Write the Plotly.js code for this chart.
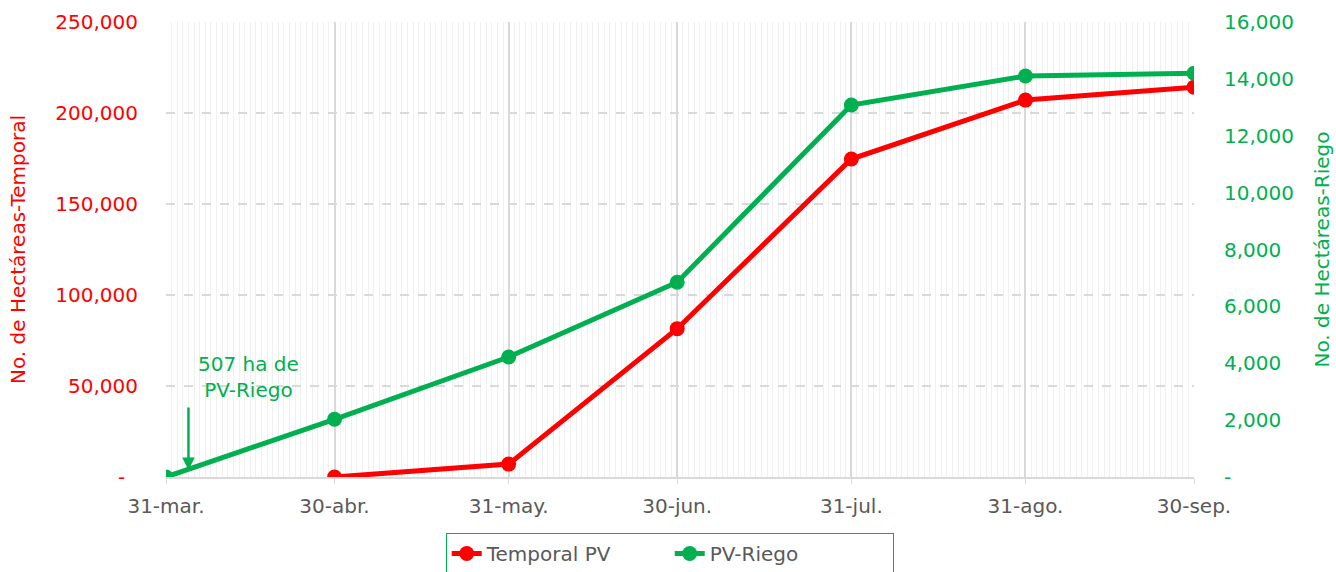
<!DOCTYPE html>
<html>
<head>
<meta charset="utf-8">
<script src="https://cdn.plot.ly/plotly-3.0.1.min.js"></script>
<style>html,body{margin:0;padding:0;background:#fff;}#chart{width:1336px;height:572px;}</style>
</head>
<body>
<div id="chart"></div>
<script>
const tickDates = ['2024-03-31','2024-04-30','2024-05-31','2024-06-30','2024-07-31','2024-08-31','2024-09-30'];
const tickLabels = ['31-mar.','30-abr.','31-may.','30-jun.','31-jul.','31-ago.','30-sep.'];

const temporalDates = ['2024-04-30','2024-05-31','2024-06-30','2024-07-31','2024-08-31','2024-09-30'];
const temporalValues = [0, 7100, 81500, 174700, 207100, 214200];

const riegoDates = ['2024-03-31','2024-04-30','2024-05-31','2024-06-30','2024-07-31','2024-08-31','2024-09-30'];
const riegoValues = [0, 2030, 4220, 6850, 13080, 14100, 14200];

const leftTicks = [0, 50000, 100000, 150000, 200000, 250000];
const leftTickText = ['-\u00a0\u00a0', '50,000', '100,000', '150,000', '200,000', '250,000'];
const rightTicks = [0, 2000, 4000, 6000, 8000, 10000, 12000, 14000, 16000];
const rightTickText = ['-', '2,000', '4,000', '6,000', '8,000', '10,000', '12,000', '14,000', '16,000'];

const annoDate = '2024-04-04';
const annoValue = 250;

const RED = '#FF0000', GREEN = '#00B050', GRAY = '#595959';
const FONT = 'DejaVu Sans';
const FS = 20;

const traces = [
  {x: temporalDates, y: temporalValues, name: 'Temporal PV', type: 'scatter', mode: 'lines+markers',
   line: {color: RED, width: 5}, marker: {color: RED, size: 15}, yaxis: 'y'},
  {x: riegoDates, y: riegoValues, name: 'PV-Riego', type: 'scatter', mode: 'lines+markers',
   line: {color: GREEN, width: 5}, marker: {color: GREEN, size: 15}, yaxis: 'y2'}
];

const layout = {
  width: 1336, height: 572,
  margin: {l: 166, r: 142, t: 22, b: 95},
  paper_bgcolor: '#fff', plot_bgcolor: '#fff',
  font: {family: FONT, size: FS, color: GRAY},
  showlegend: true,
  legend: {orientation: 'h', x: 0.49, xanchor: 'center', xref: 'paper',
           y: 39/572, yanchor: 'top', yref: 'container',
           entrywidth: 178, entrywidthmode: 'pixels',
           bordercolor: GREEN, borderwidth: 1, font: {size: FS, color: GRAY}},
  xaxis: {
    type: 'date', range: ['2024-03-31', '2024-09-30'],
    tickvals: tickDates, ticktext: tickLabels,
    showgrid: true, gridcolor: '#d9d9d9', gridwidth: 1.5,
    minor: {dtick: 86400000, tick0: '2024-03-31', showgrid: true, gridcolor: '#f0f0f0', gridwidth: 1},
    showline: true, linecolor: '#d9d9d9', linewidth: 1.5,
    ticks: 'outside', ticklen: 5, tickcolor: '#d9d9d9',
    tickfont: {size: FS, color: GRAY}, ticklabelstandoff: 5,
    zeroline: false
  },
  yaxis: {
    range: [0, 250000], tickvals: leftTicks, ticktext: leftTickText,
    tickfont: {size: FS, color: RED}, ticklabelstandoff: 27,
    showgrid: true, gridcolor: '#d9d9d9', griddash: 'dash', gridwidth: 1.5,
    zeroline: false, showline: false,
    title: {text: 'No. de Hectáreas-Temporal', font: {size: FS, color: RED}, standoff: 24}
  },
  yaxis2: {
    overlaying: 'y', side: 'right',
    range: [0, 16000], tickvals: rightTicks, ticktext: rightTickText,
    tickfont: {size: FS, color: GREEN}, ticklabelstandoff: 29,
    showgrid: false, zeroline: false, showline: false,
    title: {text: 'No. de Hectáreas-Riego', font: {size: FS, color: GREEN}, standoff: 22}
  },
  annotations: [
    {x: annoDate, y: annoValue, xref: 'x', yref: 'y2', text: '', showarrow: true,
     arrowhead: 2, arrowsize: 1, arrowwidth: 2.5, arrowcolor: GREEN, ax: 0, ay: -64},
    {x: 0.08, y: 0.219, xref: 'paper', yref: 'paper', xanchor: 'center', yanchor: 'middle',
     text: '507 ha de<br>PV-Riego', showarrow: false, align: 'center',
     font: {size: FS, color: GREEN}}
  ]
};

Plotly.newPlot('chart', traces, layout, {displayModeBar: false, responsive: false});
</script>
</body>
</html>
